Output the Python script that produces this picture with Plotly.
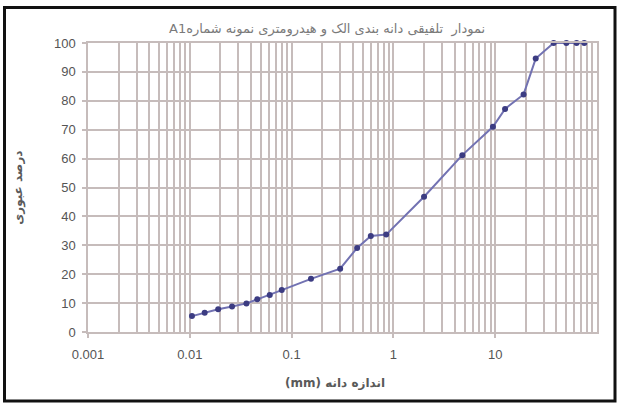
import plotly.graph_objects as go

# Combined sieve + hydrometer grading curve, sample A1
grain_size_mm = [0.0105, 0.014, 0.019, 0.026, 0.036, 0.046, 0.061, 0.080,
                 0.155, 0.30, 0.44, 0.60, 0.85, 2.0, 4.75, 9.5,
                 12.5, 19.0, 25.0, 37.5, 50.0, 63.0, 75.0]
percent_passing = [5.5, 6.7, 7.9, 8.8, 9.9, 11.3, 12.8, 14.5,
                   18.4, 21.9, 29.1, 33.2, 33.7, 46.8, 61.2, 71.0,
                   77.2, 82.2, 94.6, 100, 100, 100, 100]

x_major = [0.001, 0.01, 0.1, 1, 10]
x_major_text = ["0.001", "0.01", "0.1", "1", "10"]
x_minor = [m * 10 ** e for e in range(-3, 2) for m in range(2, 10)] + [100]
y_ticks = list(range(0, 101, 10))

title_text = "نمودار  تلفیقی دانه بندی الک و هیدرومتری نمونه شمارهA1"
x_title = "اندازه دانه (mm)"
y_title = "درصد عبوری"

RLE, PDF = "\u202b", "\u202c"  # right-to-left embedding for Persian labels

grid = "#c6bcbb"
tick_font = dict(family="Liberation Sans, Arial", size=13, color="#555555")

fig = go.Figure()
fig.add_trace(go.Scatter(
    x=grain_size_mm, y=percent_passing, mode="lines+markers",
    line=dict(color="#7272b2", width=2),
    marker=dict(color="#3c3c82", size=6),
    showlegend=False, cliponaxis=False,
))

fig.update_layout(
    width=618, height=404,
    margin=dict(l=88, r=21, t=43, b=72),
    paper_bgcolor="white", plot_bgcolor="white",
    annotations=[
        dict(text=RLE + title_text + PDF, xref="paper", yref="paper",
             x=(327 - 88) / 509, y=1.05, showarrow=False,
             xanchor="center", yanchor="middle",
             font=dict(family="DejaVu Sans, Noto Sans", size=13, color="#7a7a7a")),
        dict(text="<b>" + RLE + x_title + PDF + "</b>", xref="paper", yref="paper",
             x=(335 - 88) / 509, y=-0.176, showarrow=False,
             xanchor="center", yanchor="middle",
             font=dict(family="DejaVu Sans, Noto Sans", size=12, color="#5a5a5a")),
        dict(text="<b>" + y_title + "</b>", xref="paper", yref="paper",
             x=-0.137, y=0.5, showarrow=False, textangle=-90,
             xanchor="center", yanchor="middle",
             font=dict(family="DejaVu Sans, Noto Sans", size=12, color="#5a5a5a")),
    ],
    shapes=[
        dict(type="rect", xref="paper", yref="paper",
             x0=(4.5 - 88) / 509, x1=(615 - 88) / 509,
             y0=(332 - 401) / 289, y1=(332 - 7.5) / 289,
             line=dict(color="#111111", width=3), layer="above"),
    ],
)

fig.update_xaxes(
    type="log", range=[-3, 2],
    tickvals=x_major, ticktext=x_major_text, tickfont=tick_font,
    showgrid=True, gridcolor=grid, gridwidth=1.5,
    minor=dict(tickvals=x_minor, showgrid=True, gridcolor=grid, gridwidth=1.5,
               ticks=""),
    ticks="outside", ticklen=4, tickcolor=grid, tickwidth=1.5,
    showline=True, linecolor=grid, linewidth=1.5, mirror=True,
    zeroline=False, ticklabelstandoff=6,
)
fig.update_yaxes(
    range=[0, 100], tickvals=y_ticks, tickfont=tick_font,
    showgrid=True, gridcolor=grid, gridwidth=1.5,
    ticks="outside", ticklen=4, tickcolor=grid, tickwidth=1.5,
    showline=True, linecolor=grid, linewidth=1.5, mirror=True,
    zeroline=False, ticklabelstandoff=4,
)

fig.write_html("out.html")
